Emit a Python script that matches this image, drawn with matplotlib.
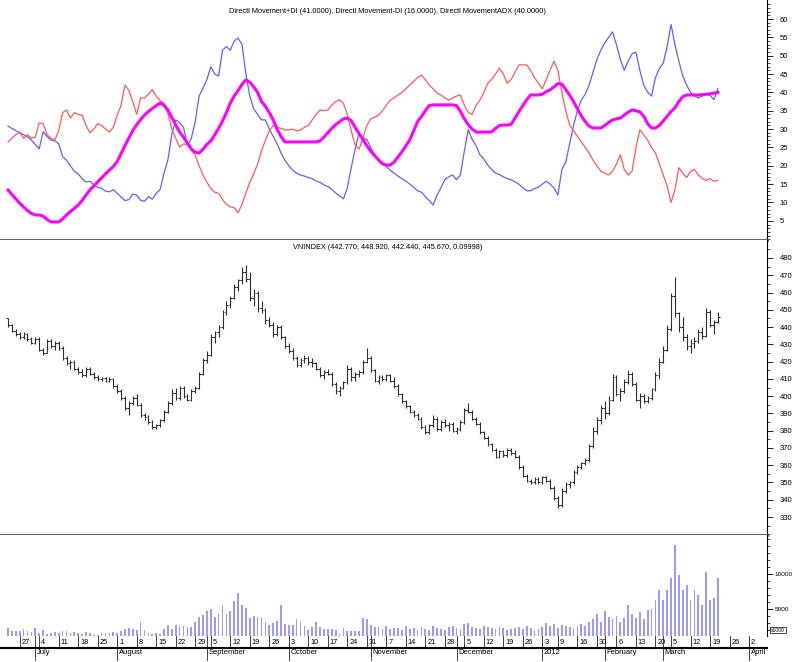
import matplotlib.pyplot as plt
import numpy as np
import pandas as pd

plt.rcParams["font.family"] = ["Liberation Sans Narrow", "Liberation Sans", "DejaVu Sans"]

# trading sessions shown on the chart (exchange closed / no data on these weekdays)
closed = ["2011-09-02", "2012-01-02", "2012-01-23", "2012-01-24", "2012-01-25",
          "2012-01-26", "2012-01-27", "2012-02-22", "2012-02-23", "2012-02-24",
          "2012-02-27", "2012-02-28", "2012-02-29"]
sessions = pd.bdate_range("2011-06-22", "2012-04-06")
sessions = sessions[~sessions.isin(pd.to_datetime(closed))]

plus_di = [
    30.8, 30.2, 29.6, 28.9, 28.5, 27.9, 27.0, 25.8, 24.6, 29.3,
    28.0, 27.0, 26.8, 26.0, 22.5, 21.5, 20.0, 18.5, 17.8, 16.5,
    15.6, 15.8, 14.8, 14.1, 13.9, 13.1, 12.9, 13.5, 12.5, 11.5,
    10.5, 10.8, 12.3, 12.0, 10.6, 10.3, 11.6, 10.9, 12.5, 13.5,
    18.0, 21.6, 28.5, 32.5, 31.8, 30.5, 25.5, 27.5, 32.0, 39.0,
    41.2, 43.5, 47.0, 45.0, 44.5, 51.5, 52.5, 51.5, 54.0, 54.8,
    53.0, 45.0, 39.0, 35.5, 34.0, 32.5, 32.5, 30.0, 28.0, 26.0,
    23.5, 21.5, 20.0, 18.8, 18.0, 17.5, 17.2, 16.8, 16.5, 15.8,
    15.5, 14.8, 14.3, 13.6, 12.6, 11.8, 11.0, 14.0, 19.5, 24.5,
    29.0, 27.5, 27.2, 25.0, 23.0, 21.5, 20.5, 19.8, 18.8, 18.0,
    17.2, 16.5, 15.8, 15.0, 14.2, 13.2, 12.8, 11.6, 10.5, 9.3,
    12.0, 14.0, 16.2, 17.0, 17.5, 16.2, 17.5, 24.0, 29.8, 27.2,
    25.5, 23.0, 21.8, 20.2, 19.0, 18.0, 17.6, 17.0, 16.5, 16.2,
    15.6, 15.0, 14.0, 13.2, 13.2, 13.8, 14.2, 15.0, 15.8, 15.0,
    14.0, 12.0, 19.0, 21.0, 26.0, 31.0, 35.0, 38.0, 39.5, 42.0,
    45.5, 49.0, 51.5, 53.5, 55.0, 56.5, 53.0, 49.0, 46.0, 48.5,
    50.5, 51.0, 46.0, 42.0, 40.0, 39.0, 44.0, 46.5, 48.0, 52.5,
    58.5, 53.0, 48.5, 44.5, 42.0, 40.0, 39.0, 38.5, 39.0, 39.5,
    39.2, 38.0, 41.0,
]
minus_di = [
    26.5, 27.5, 28.5, 29.2, 27.5, 28.5, 27.5, 27.8, 31.7, 31.5,
    28.5, 27.5, 27.0, 29.5, 34.5, 35.2, 33.0, 34.5, 34.0, 33.8,
    31.0, 29.0, 30.0, 31.5, 31.0, 30.0, 29.2, 30.5, 33.8, 36.5,
    42.0, 40.5, 37.5, 34.0, 38.5, 38.5, 39.5, 40.8, 39.0, 37.8,
    37.0, 34.4, 30.0, 27.5, 25.1, 26.0, 25.8, 24.3, 22.9, 20.0,
    17.5, 15.5, 13.8, 12.8, 12.5, 10.8, 9.5, 8.8, 8.6, 7.2,
    9.5, 12.6, 15.5, 17.8, 20.5, 24.0, 27.0, 29.5, 31.0, 30.5,
    30.2, 29.8, 29.8, 30.0, 29.5, 29.8, 30.5, 31.0, 32.5, 34.0,
    35.2, 35.0, 35.2, 36.5, 37.5, 38.0, 37.0, 34.0, 29.5, 25.7,
    24.5, 27.5, 31.0, 32.8, 33.2, 33.8, 35.0, 36.5, 37.9, 38.5,
    39.3, 40.0, 41.0, 42.0, 43.0, 44.0, 44.7, 43.5, 42.0, 41.0,
    39.8, 39.3, 38.5, 37.9, 38.5, 39.0, 39.3, 36.5, 34.5, 34.0,
    36.5, 37.9, 40.0, 42.5, 43.5, 45.0, 46.6, 45.0, 42.5, 43.5,
    45.5, 47.5, 47.5, 47.5, 46.0, 44.0, 42.5, 41.0, 43.5, 46.1,
    48.5, 46.0, 40.0, 35.0, 31.1, 29.5, 28.0, 26.5, 25.0, 23.5,
    21.5, 20.0, 18.5, 18.0, 17.5, 18.5, 20.5, 23.0, 19.0, 17.5,
    18.5, 25.0, 29.8, 28.5, 27.0, 25.0, 23.5, 20.5, 17.5, 14.5,
    10.0, 13.5, 19.5, 18.0, 16.8, 18.5, 19.0, 17.5, 16.5, 16.0,
    16.5, 15.8, 16.0,
]
adx = [
    13.4, 12.2, 11.0, 9.8, 8.8, 7.8, 7.0, 6.6, 6.6, 6.3,
    5.4, 4.7, 4.7, 4.7, 5.5, 6.6, 7.5, 8.4, 9.3, 10.5,
    12.0, 13.4, 14.5, 15.6, 16.7, 17.8, 18.8, 19.8, 21.2, 23.3,
    25.5, 27.6, 29.6, 31.2, 32.6, 33.8, 34.8, 35.6, 36.4, 37.1,
    36.5, 35.2, 33.2, 31.2, 29.2, 27.8, 26.2, 24.6, 23.7, 23.5,
    24.5, 25.8, 26.8, 28.4, 30.2, 32.2, 34.5, 37.1, 39.0, 40.5,
    42.2, 43.4, 42.8, 41.5, 40.0, 37.5, 36.2, 34.5, 32.5, 30.0,
    28.0, 26.5, 26.5, 26.5, 26.5, 26.5, 26.5, 26.5, 26.5, 26.5,
    26.8, 27.8, 29.0, 30.2, 31.2, 32.0, 32.8, 33.0, 32.3, 30.5,
    28.8, 27.2, 25.5, 24.0, 22.8, 21.6, 20.6, 20.2, 20.2, 21.0,
    22.4, 23.8, 25.4, 27.0, 29.5, 32.0, 33.4, 35.0, 36.4, 36.6,
    36.6, 36.6, 36.6, 36.6, 36.6, 36.4, 34.8, 32.8, 31.2, 30.0,
    29.2, 29.2, 29.2, 29.2, 29.2, 30.2, 31.0, 31.1, 31.1, 31.3,
    33.0, 34.8, 36.4, 38.0, 39.3, 39.3, 39.3, 39.5, 40.2, 40.7,
    41.5, 42.4, 42.3, 40.8, 39.3, 37.5, 35.5, 33.6, 32.0, 30.8,
    30.3, 30.3, 30.3, 31.0, 31.8, 32.5, 32.8, 33.0, 33.8, 34.6,
    35.2, 35.0, 34.7, 33.5, 31.5, 30.3, 30.3, 31.0, 32.2, 33.5,
    34.8, 35.8, 37.5, 38.8, 39.3, 39.3, 39.3, 39.3, 39.4, 39.5,
    39.6, 39.8, 40.0,
]

px_open = [
    445, 441, 438, 436, 434, 436, 433, 431, 433, 427,
    425, 432, 429, 431, 428, 422, 419, 420, 416, 414,
    412, 416, 413, 411, 410, 410.5, 409, 410, 406, 403,
    399, 393, 396, 399, 395, 389, 388, 385, 382, 383,
    386, 391, 396, 402, 399, 405, 400, 398, 403, 405,
    413, 421, 424, 434, 437, 440, 449, 453, 457, 463,
    467, 472, 468, 457, 460, 451, 450, 444, 441, 436,
    440, 434, 429, 426, 422, 418, 421, 422, 420, 419,
    416, 412, 414, 413, 407, 403, 405, 408, 416, 411,
    413, 414, 420, 422, 415, 409, 411, 410, 412, 409,
    406, 401, 397, 394, 391, 389, 387, 382, 379, 383,
    387, 381, 385, 383, 384, 380, 381, 385, 392, 391,
    387, 384, 379, 376, 372, 369, 365, 368, 366, 369,
    367, 365, 359, 354, 351, 350, 352, 350, 353, 351,
    347, 341, 337, 345, 349, 350, 356, 359, 361, 363,
    371, 380, 386, 393, 390, 398, 411, 401, 403, 408,
    413, 407, 398, 400, 397, 399, 404, 412, 420, 427,
    439, 458, 448, 440, 434, 429, 431, 432, 437, 435,
    449, 441, 442.77,
]
px_high = [
    445.5, 442, 439, 437, 437, 436.5, 434, 434, 434, 428,
    433, 433, 432, 432, 429, 423, 421, 421, 417, 416,
    417, 417, 414, 412, 411, 411, 411, 410.5, 407, 404,
    400, 397, 400, 401, 396, 390, 389, 386, 384, 387,
    392, 397, 404, 405, 406, 406, 401, 404, 406, 414,
    422, 426, 436, 438, 441, 450, 455, 458, 465, 468,
    475, 476, 472, 462, 461, 455, 451, 446, 443, 441,
    441, 435, 431, 428, 423, 422, 424, 423, 422, 420,
    417, 415, 416, 414, 408, 406, 409, 418, 417, 414,
    415, 421, 428, 423, 416, 412, 412, 413, 413, 411,
    407, 402, 398, 395, 392, 390, 388, 383, 384, 389,
    388, 386, 387, 385, 385, 382, 386, 393, 396, 392,
    388, 385, 380, 377, 373, 370, 369, 369, 370, 370,
    369, 366, 360, 355, 352, 353, 353, 354, 354, 352,
    348, 342, 347, 350, 351, 357, 360, 362, 364, 372,
    382, 388, 395, 397, 400, 413, 412, 405, 410, 415,
    414, 408, 402, 401, 400, 405, 414, 422, 429, 441,
    460, 469, 449, 446, 436, 433, 434, 439, 440, 451,
    450, 444, 448.92,
]
px_low = [
    440, 437, 435, 433, 433, 432, 430, 430, 426, 424,
    425, 428, 427, 427, 421, 418, 416, 415, 413, 411,
    411, 412, 410, 409, 409, 408, 408, 405, 402, 398,
    392, 389, 395, 394, 388, 386, 384, 381, 381, 382,
    385, 390, 395, 398, 398, 399, 397, 397, 402, 404,
    412, 419, 423, 431, 434, 439, 447, 451, 456, 461,
    465, 466, 455, 452, 449, 448, 442, 440, 434, 435,
    433, 428, 425, 421, 417, 417, 419, 418, 417, 415,
    411, 410, 412, 406, 401, 400, 404, 407, 409, 409,
    411, 413, 419, 414, 408, 407, 409, 409, 408, 405,
    400, 396, 393, 390, 388, 386, 381, 378, 378, 382,
    380, 380, 382, 380, 379, 378, 380, 384, 390, 386,
    383, 378, 375, 371, 368, 364, 364, 365, 365, 366,
    364, 358, 353, 350, 349, 349, 349, 349, 350, 346,
    340, 335, 336, 344, 347, 349, 355, 358, 360, 362,
    370, 378, 384, 387, 389, 397, 400, 397, 402, 407,
    406, 397, 393, 396, 396, 398, 403, 410, 419, 426,
    438, 446, 437, 432, 427, 425, 428, 431, 433, 434,
    440, 436, 442.44,
]
px_close = [
    441, 438, 436, 434, 436, 433, 431, 433, 427, 425,
    432, 429, 431, 428, 422, 419, 420, 416, 414, 412,
    416, 413, 411, 410, 410.5, 409, 410, 406, 403, 399,
    393, 396, 399, 395, 389, 388, 385, 382, 383, 386,
    391, 396, 402, 399, 405, 400, 398, 403, 405, 413,
    421, 424, 434, 437, 440, 449, 453, 457, 463, 467,
    472, 468, 457, 460, 451, 450, 444, 441, 436, 440,
    434, 429, 426, 422, 418, 421, 422, 420, 419, 416,
    412, 414, 413, 407, 403, 405, 408, 416, 411, 413,
    414, 420, 422, 415, 409, 411, 410, 412, 409, 406,
    401, 397, 394, 391, 389, 387, 382, 379, 383, 387,
    381, 385, 383, 384, 380, 381, 385, 392, 391, 387,
    384, 379, 376, 372, 369, 365, 368, 366, 369, 367,
    365, 359, 354, 351, 350, 352, 350, 353, 351, 347,
    341, 337, 345, 349, 350, 356, 359, 361, 363, 371,
    380, 386, 393, 390, 398, 411, 401, 403, 408, 413,
    407, 398, 400, 397, 399, 404, 412, 420, 427, 439,
    458, 448, 440, 434, 429, 431, 432, 437, 435, 449,
    441, 443, 445.67,
]
volume = [
    2290, 1860, 1860, 1860, 2140, 1860, 1710, 2290, 1570, 2000,
    1430, 1570, 1710, 1570, 1860, 1860, 1570, 1710, 1570, 1430,
    1710, 1570, 1290, 1290, 1570, 1570, 1570, 1710, 1570, 1860,
    2140, 2290, 2140, 2000, 3140, 2000, 1570, 1430, 1570, 1430,
    2140, 2710, 2140, 2710, 2570, 2570, 2430, 2430, 3140, 3860,
    4140, 4710, 5000, 3860, 4290, 5570, 4290, 4710, 6140, 7290,
    5570, 5140, 3710, 4000, 3860, 3710, 3140, 2710, 3000, 3290,
    5570, 2860, 2710, 2710, 3570, 3140, 2570, 2000, 2430, 3140,
    2430, 2140, 2140, 2140, 2000, 1430, 2290, 1860, 1860, 1860,
    1860, 3710, 3570, 2710, 2430, 2430, 2140, 2570, 2140, 2290,
    2290, 2000, 2570, 2140, 2290, 2000, 2430, 2140, 2000, 2570,
    2290, 2140, 2000, 2430, 2570, 2290, 2140, 2860, 3000, 2430,
    2290, 2140, 2570, 2430, 2290, 2140, 2430, 2290, 2000, 2140,
    2290, 2430, 2140, 2570, 2290, 2000, 2140, 2430, 3000, 2570,
    2860, 2290, 2710, 2570, 2430, 2290, 2570, 2860, 2570, 3140,
    3570, 4290, 3140, 4710, 3860, 3570, 4000, 3140, 3710, 5570,
    4290, 3710, 4570, 3570, 4860, 5000, 6290, 7710, 6290, 7710,
    9400, 14100, 9860, 7710, 8430, 6290, 7710, 7000, 5570, 10290,
    6290, 6570, 9400,
]

W, H = 793, 662


def box(x0, y0, x1, y1):
    return [x0 / W, 1 - y1 / H, (x1 - x0) / W, (y1 - y0) / H]


fig = plt.figure(figsize=(W / 100, H / 100), dpi=100)
ax1 = fig.add_axes(box(0, 0, 767, 240))
ax2 = fig.add_axes(box(0, 240, 767, 535))
ax3 = fig.add_axes(box(0, 535, 767, 636))
axd = fig.add_axes(box(0, 636, 767, 648))

x = np.arange(len(px_close))
xlim = (-2.05, 194.6)

# DMI panel
ax1.plot(x, plus_di, color="#6060ff", lw=0.9)
ax1.plot(x, minus_di, color="#ff5a5a", lw=0.9)
ax1.plot(x, adx, color="#ff00ff", lw=2.2)
ax1.set_ylim(-0.22, 65.18)
ax1.set_yticks(np.arange(5, 61, 5))
ax1.set_yticks(np.arange(0, 65, 1), minor=True)
ax1.text(0.505, 0.965, "Directl Movement+DI (41.0000), Directl Movement-DI (16.0000), "
         "Directl MovementADX (40.0000)", transform=ax1.transAxes,
         ha="center", va="top", fontsize=5.3)

# price panel (OHLC bars)
ax2.vlines(x, px_low, px_high, color="#303030", lw=0.8)
ax2.hlines(px_open, x - 0.45, x, color="#303030", lw=0.8)
ax2.hlines(px_close, x, x + 0.45, color="#303030", lw=0.8)
ax2.set_ylim(319.6, 490.4)
ax2.set_yticks(np.arange(330, 481, 10))
ax2.set_yticks(np.arange(320, 490, 5), minor=True)
ax2.text(0.505, 0.985, "VNINDEX (442.770, 448.920, 442.440, 445.670, 0.09998)",
         transform=ax2.transAxes, ha="center", va="top", fontsize=5.3)

# volume panel
ax3.bar(x, volume, width=0.45, color="#9a9aff", linewidth=0)
ax3.set_ylim(1143, 15575)
ax3.set_yticks([5000, 10000])
ax3.set_yticks(np.arange(2000, 15600, 1000), minor=True)

for ax in (ax1, ax2, ax3):
    ax.set_xlim(*xlim)
    ax.set_xticks([])
    ax.yaxis.tick_right()
    ax.tick_params(axis="y", which="major", length=4, width=0.6, labelsize=5.5, pad=5)
    ax.tick_params(axis="y", which="minor", length=2, width=0.5)
    ax.spines["left"].set_visible(False)
    ax.spines["top"].set_visible(False)
    ax.spines["right"].set_linewidth(0.8)
    ax.spines["bottom"].set_color("#555555")
    ax.spines["bottom"].set_linewidth(2)
ax3.spines["bottom"].set_visible(False)
ax3.tick_params(axis="y", which="major", labelsize=4.6, pad=1.5)

fig.text(0.972, 1 - 630 / H, "x1000", fontsize=3.6, va="center",
         bbox=dict(facecolor="white", edgecolor="black", lw=0.5, pad=0.6))

# date strip: week starts on top row, months below the line
axd.set_xlim(*xlim)
axd.set_ylim(0, 1)
axd.set_xticks([])
axd.set_yticks([])
for s in ("left", "right", "top"):
    axd.spines[s].set_visible(False)
axd.spines["bottom"].set_linewidth(1.5)
axd.patch.set_alpha(0)
trans = axd.get_xaxis_transform()
for k in range(1, len(sessions)):
    d, prev = sessions[k], sessions[k - 1]
    if d.month != prev.month:
        axd.plot([k, k], [1, -1.0], transform=trans, clip_on=False, color="#444444", lw=0.7)
        name = str(d.year) if d.month == 1 else d.strftime("%B")
        axd.text(k + 0.4, -0.12, name, transform=trans, ha="left", va="top", fontsize=5.5)
    if d.weekday() < prev.weekday() and d.weekday() <= 1:
        axd.plot([k, k], [0, 1], transform=trans, clip_on=False, color="#444444", lw=0.7)
        axd.text(k + 0.5, 0.45, str(d.day), transform=trans, ha="left", va="center",
                 fontsize=5.3)

fig.savefig("out.png", dpi=100)
